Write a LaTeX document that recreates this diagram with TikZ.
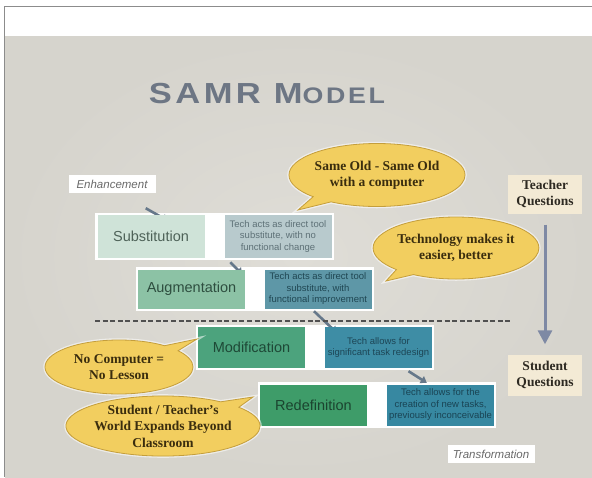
\documentclass[tikz,border=0pt]{standalone}
\usepackage{fontspec}
\usepackage{graphicx}
\setmainfont{Liberation Serif}
\setsansfont{Liberation Sans}
\newfontfamily\titlefont[LetterSpace=10]{Liberation Sans}
\usetikzlibrary{shapes.callouts,arrows.meta}
\pgfdeclarelayer{backs}
\pgfdeclarelayer{conns}
\pgfsetlayers{backs,conns,main}
\definecolor{slidein}{HTML}{DFDDD7}
\definecolor{slideout}{HTML}{D6D4CD}
\definecolor{borderc}{HTML}{8C8C8C}
\definecolor{titlec}{HTML}{6D7684}
\definecolor{subc}{HTML}{CFE3D8}
\definecolor{subt}{HTML}{4E6258}
\definecolor{subdc}{HTML}{B8CACD}
\definecolor{subdt}{HTML}{5E7177}
\definecolor{augc}{HTML}{8CC2A5}
\definecolor{augt}{HTML}{2E4E3F}
\definecolor{augdc}{HTML}{5E97A7}
\definecolor{augdt}{HTML}{204753}
\definecolor{modc}{HTML}{4CA37D}
\definecolor{modt}{HTML}{1E4836}
\definecolor{moddc}{HTML}{3E8DA5}
\definecolor{moddt}{HTML}{1D4656}
\definecolor{redc}{HTML}{3E9C69}
\definecolor{redt}{HTML}{1B442F}
\definecolor{reddc}{HTML}{3788A1}
\definecolor{reddt}{HTML}{1A4454}
\definecolor{bubblec}{HTML}{F2CE5F}
\definecolor{bubblel}{HTML}{C49E3C}
\definecolor{bubblet}{HTML}{3A2D0E}
\definecolor{qboxc}{HTML}{F3EAD5}
\definecolor{qtext}{HTML}{2E2A22}
\definecolor{arrowc}{HTML}{7E89A4}
\definecolor{connc}{HTML}{66788A}
\definecolor{dashc}{HTML}{505050}
\definecolor{labelt}{HTML}{6A6A6A}
\tikzset{
  levelbox/.style={rectangle, minimum width=107pt, minimum height=42pt, inner sep=1pt,
    font=\sffamily\fontsize{14.5}{16}\selectfont},
  descbox/.style={rectangle, minimum width=107pt, minimum height=42pt, inner sep=1pt,
    align=center, font=\sffamily\fontsize{9.5}{11.5}\selectfont},
  stagelabel/.style={rectangle, fill=white, minimum width=87pt, minimum height=18pt, inner sep=1pt,
    text=labelt, font=\sffamily\itshape\fontsize{11.5}{13}\selectfont},
  bubble/.style={ellipse callout, fill=bubblec, draw=bubblel, line width=0.8pt, inner sep=0pt,
    preaction={draw=white, line width=3.5pt, opacity=0.55},
    align=center, text=bubblet, font=\rmfamily\bfseries\fontsize{13.5}{16.5}\selectfont},
  qbox/.style={rectangle, fill=qboxc, minimum width=74pt, minimum height=39pt, inner sep=1pt,
    align=center, text=qtext, font=\rmfamily\bfseries\fontsize{13.5}{16}\selectfont},
  conn/.style={draw=connc, line width=2.6pt, -{Triangle[width=8pt,length=6pt]}},
  backing/.style={fill=white}
}
\begin{document}
\begin{tikzpicture}[x=1pt,y=-1pt]
\useasboundingbox (0,0) rectangle (592,477);
\begin{pgfonlayer}{backs}
\fill[white] (0,0) rectangle (592,477);
\shade[inner color=slidein, outer color=slideout] (5,36) rectangle (592,477);
\draw[borderc, line width=1pt] (592,6) -- (4.5,6) -- (4.5,477);
\end{pgfonlayer}

% title
\node[text=titlec, inner sep=0pt] (title) at (267,94)
  {\scalebox{1.19}[1]{\titlefont\bfseries\fontsize{29}{30}\selectfont SAMR M\fontsize{22.5}{30}\selectfont ODEL}};

% stage labels
\node[stagelabel] (enh) at (112,184) {Enhancement};
\node[stagelabel] (trans) at (491,454) {Transformation};

% level boxes
\node[levelbox, fill=subc, text=subt, minimum height=43pt] (sub) at (151,236.5) {Substitution};
\node[descbox, fill=subdc, text=subdt, minimum height=43pt] (subd) at (278,236.5)
  {Tech acts as direct tool\\substitute, with no\\functional change};
\node[levelbox, fill=augc, text=augt, minimum height=39pt] (aug) at (191.5,289) {Augmentation};
\node[descbox, fill=augdc, text=augdt, minimum height=39pt] (augd) at (318,289)
  {Tech acts as direct tool\\substitute, with\\functional improvement};
\node[levelbox, fill=modc, text=modt, minimum height=41pt] (mod) at (251.5,347.5) {Modification};
\node[descbox, fill=moddc, text=moddt, minimum height=41pt] (modd) at (378.5,347.5)
  {Tech allows for\\significant task redesign};
\node[levelbox, fill=redc, text=redt, minimum height=41pt] (red) at (313.5,405) {Redefinition};
\node[descbox, fill=reddc, text=reddt, minimum height=41pt] (redd) at (440.5,405)
  {Tech allows for the\\creation of new tasks,\\previously inconceivable};

% white backings behind each row
\begin{pgfonlayer}{backs}
\fill[backing] ([shift={(-2pt,2pt)}]sub.north west) rectangle ([shift={(2pt,-2pt)}]subd.south east);
\fill[backing] ([shift={(-2pt,2pt)}]aug.north west) rectangle ([shift={(2pt,-2pt)}]augd.south east);
\fill[backing] ([shift={(-2pt,2pt)}]mod.north west) rectangle ([shift={(2pt,-2pt)}]modd.south east);
\fill[backing] ([shift={(-2pt,2pt)}]red.north west) rectangle ([shift={(2pt,-2pt)}]redd.south east);
\end{pgfonlayer}

% short connectors (tips tucked under the boxes)
\begin{pgfonlayer}{conns}
\draw[conn] ([xshift=-10pt,yshift=-15pt]enh.south east) -- ([xshift=17pt,yshift=-6pt]sub.north);
\draw[conn] ([xshift=6pt,yshift=-4pt]subd.south west) -- ([xshift=-3pt,yshift=-5pt]aug.north east);
\draw[conn] ([xshift=-4pt,yshift=-2.5pt]augd.south) -- ([xshift=12pt,yshift=-6pt]modd.north west);
\end{pgfonlayer}
\draw[conn] ([xshift=30pt,yshift=-3pt]modd.south) -- ([xshift=40pt,yshift=1.5pt]redd.north west);

% divider
\draw[dashc, line width=1.8pt, dash pattern=on 5pt off 2.6pt] (95,321) -- (510,321);

% speech bubbles
\coordinate (p1) at (298,210);
\coordinate (p2) at (386,281);
\coordinate (p3) at (197,339);
\coordinate (p4) at (253,397);
\node[bubble, minimum width=168pt, minimum height=63pt, callout absolute pointer=(p1)] (b1) at (377,175)
  {Same Old - Same Old\\with a computer};
\node[bubble, minimum width=138pt, minimum height=62pt, callout absolute pointer=(p2)] (b2) at (456,248)
  {Technology makes it\\easier, better};
\node[bubble, minimum width=148pt, minimum height=54pt, callout absolute pointer=(p3)] (b3) at (119,367)
  {No Computer =\\No Lesson};
\node[bubble, minimum width=172pt, minimum height=56pt, callout absolute pointer=(p4)] (b4) at (163,426)
  {Student / Teacher's\\World Expands Beyond\\Classroom};

% questions
\node[qbox] (tq) at (545,194) {Teacher\\Questions};
\node[qbox, minimum height=41pt] (sq) at (545,375) {Student\\Questions};
\draw[arrowc, line width=3pt, -{Triangle[width=14pt,length=14pt]}, shorten <=11pt, shorten >=10pt] (tq) -- (sq);
\end{tikzpicture}
\end{document}
